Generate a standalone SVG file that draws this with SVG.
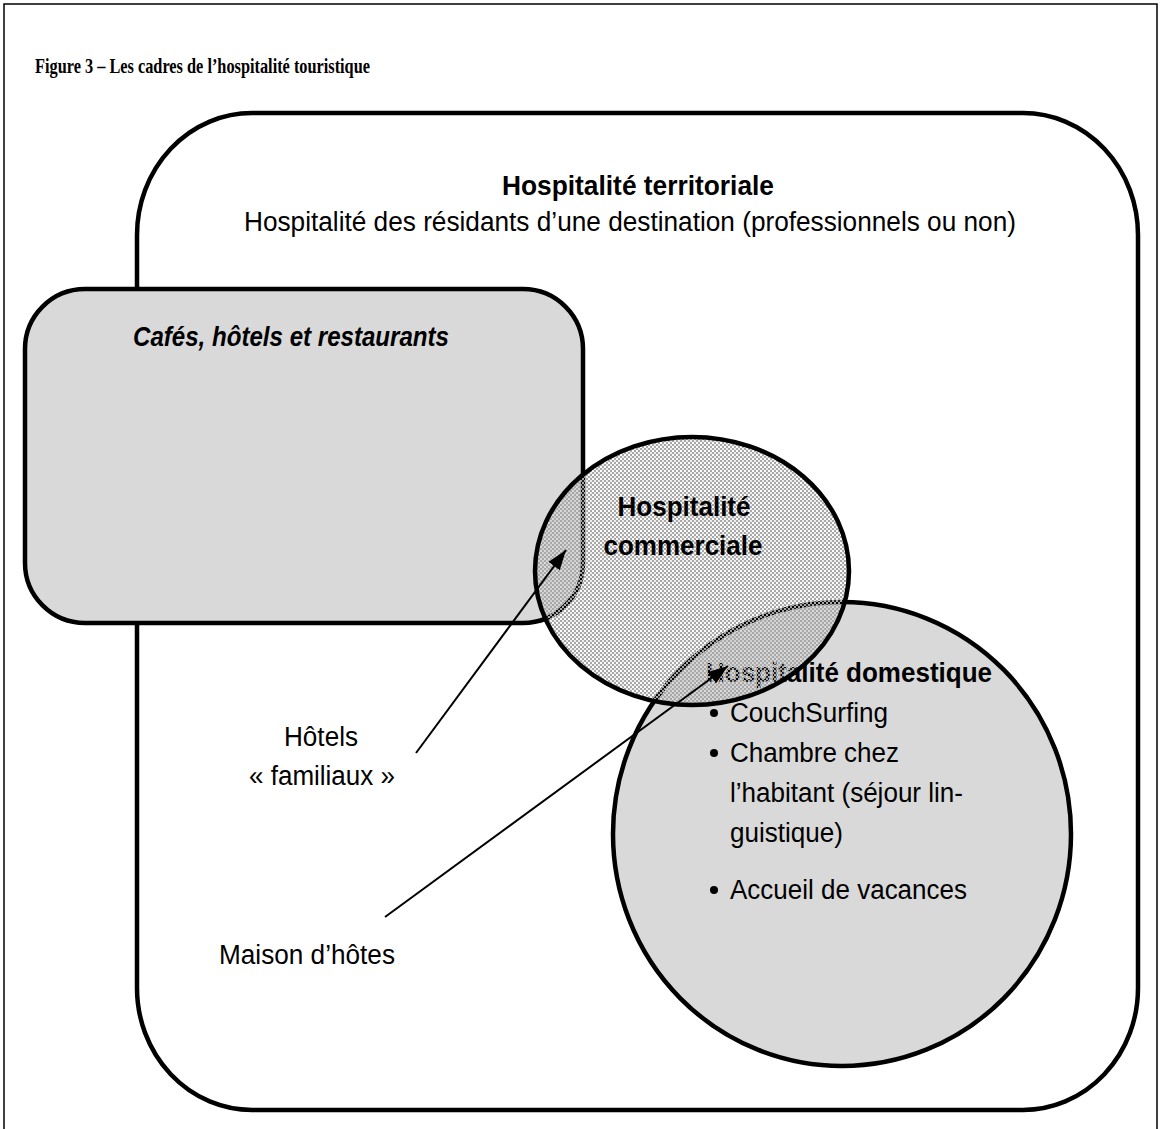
<svg xmlns="http://www.w3.org/2000/svg" width="1160" height="1129" viewBox="0 0 1160 1129">
<style>
.sans{font-family:"Liberation Sans",Arial,sans-serif;font-size:27px;fill:#000}
.b{font-weight:bold}
.shape{stroke:#000;stroke-width:4.5}
.conn{stroke:#000;stroke-width:2;fill:none}
</style>
<defs>
<pattern id="dots" width="4" height="4" patternUnits="userSpaceOnUse">
<rect x="0" y="0" width="2" height="2" fill="#a8a8a8"/>
<rect x="2" y="2" width="2" height="2" fill="#a8a8a8"/>
<rect x="2" y="0" width="2" height="2" fill="#a8a8a8" fill-opacity="0.2"/>
</pattern>
<marker id="arr" markerUnits="userSpaceOnUse" markerWidth="22" markerHeight="16" refX="20" refY="7" orient="auto">
<path d="M0,0 L20,7 L0,14 z" fill="#000"/>
</marker>
</defs>
<rect width="1160" height="1129" fill="#fff"/>
<path d="M4,1129 V4 H1157 V1129" fill="none" stroke="#000" stroke-width="1.5"/>
<text x="35" y="73" font-family="'Liberation Serif','Times New Roman',serif" font-weight="bold" font-size="21" textLength="335" lengthAdjust="spacingAndGlyphs">Figure 3 – Les cadres de l’hospitalité touristique</text>

<g id="territoriale">
<rect class="shape" x="137" y="113" width="1001" height="997" rx="115" ry="122" fill="#fff"/>
<text class="sans b" x="638" y="195" text-anchor="middle" textLength="272" lengthAdjust="spacingAndGlyphs">Hospitalité territoriale</text>
<text class="sans" x="630" y="231" text-anchor="middle" textLength="772" lengthAdjust="spacingAndGlyphs">Hospitalité des résidants d’une destination (professionnels ou non)</text>
</g>

<g id="chr">
<rect class="shape" x="25" y="289" width="558" height="334" rx="60" ry="60" fill="#d9d9d9"/>
<text class="sans b" x="133" y="346" font-style="italic" textLength="316" lengthAdjust="spacingAndGlyphs">Cafés, hôtels et restaurants</text>
</g>

<g id="domestique">
<ellipse class="shape" cx="842" cy="834" rx="229" ry="232" fill="#d9d9d9"/>
<text class="sans b" x="706" y="682" textLength="286" lengthAdjust="spacingAndGlyphs">Hospitalité domestique</text>
<circle cx="714" cy="713" r="4"/>
<text class="sans" x="730" y="722" textLength="158" lengthAdjust="spacingAndGlyphs">CouchSurfing</text>
<circle cx="714" cy="753" r="4"/>
<text class="sans" x="730" y="762" textLength="169" lengthAdjust="spacingAndGlyphs">Chambre chez</text>
<text class="sans" x="730" y="802" textLength="233" lengthAdjust="spacingAndGlyphs">l’habitant (séjour lin-</text>
<text class="sans" x="730" y="842" textLength="113" lengthAdjust="spacingAndGlyphs">guistique)</text>
<circle cx="714" cy="890" r="4"/>
<text class="sans" x="730" y="899" textLength="237" lengthAdjust="spacingAndGlyphs">Accueil de vacances</text>
</g>

<g id="commerciale">
<ellipse cx="692" cy="571" rx="157" ry="134" fill="url(#dots)"/>
<ellipse class="shape" cx="692" cy="571" rx="157" ry="134" fill="none"/>
<text class="sans b" x="684" y="516" text-anchor="middle" textLength="133" lengthAdjust="spacingAndGlyphs">Hospitalité</text>
<text class="sans b" x="683" y="555" text-anchor="middle" textLength="159" lengthAdjust="spacingAndGlyphs">commerciale</text>
</g>

<g id="connectors">
<line class="conn" x1="416" y1="753" x2="566" y2="550" marker-end="url(#arr)"/>
<line class="conn" x1="385" y1="917" x2="728" y2="666" marker-end="url(#arr)"/>
</g>

<g id="hotels-familiaux">
<text class="sans" x="321" y="746" text-anchor="middle" textLength="74" lengthAdjust="spacingAndGlyphs">Hôtels</text>
<text class="sans" x="322" y="785" text-anchor="middle" textLength="146" lengthAdjust="spacingAndGlyphs">« familiaux »</text>
</g>
<g id="maison-hotes">
<text class="sans" x="219" y="964" textLength="176" lengthAdjust="spacingAndGlyphs">Maison d’hôtes</text>
</g>
</svg>
